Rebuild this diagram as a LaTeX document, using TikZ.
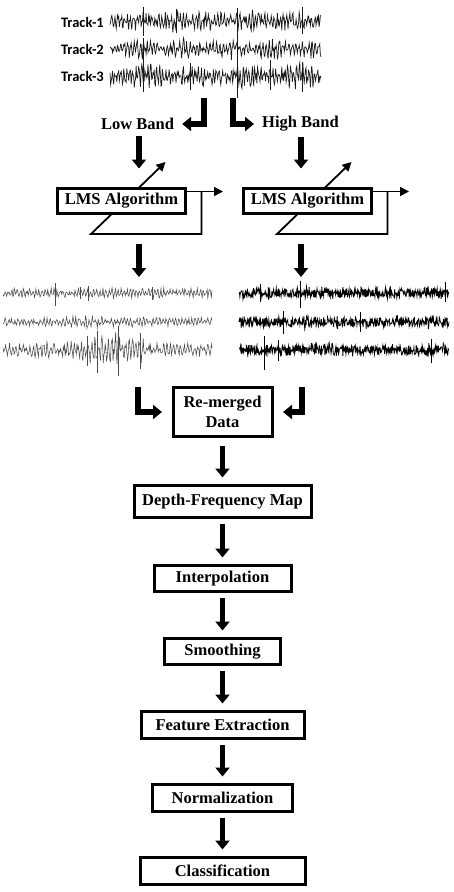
\documentclass[tikz,border=0pt]{standalone}
\usepackage{fontspec}
\setmainfont{Liberation Serif}
\newfontfamily\trackfont{Carlito}
\usetikzlibrary{arrows.meta,backgrounds,calc}
\begin{document}
\begin{tikzpicture}[x=1pt,y=-1pt,
  procbox/.style={draw, line width=3pt, fill=white, inner sep=0pt, align=center,
    font=\bfseries\fontsize{16.5}{20}\selectfont},
  lbl/.style={font=\bfseries\fontsize{16.5}{20}\selectfont, inner sep=0pt},
  trk/.style={font=\trackfont\bfseries\fontsize{14.5}{16}\selectfont, anchor=east, inner sep=0pt},
  bigarrow/.style={line width=5.5pt, line join=miter, -{Triangle[width=14pt,length=9pt]}},
  thinarrow/.style={line width=1.8pt, line join=miter, -{Triangle[width=9pt,length=9pt]}},
  wave/.style={line width=0.7pt, black!90},
  wavegray/.style={line width=0.55pt, black!70},
  wavedark/.style={line width=0.8pt, black}]
\useasboundingbox (0,0) rectangle (454,892);
\pgfmathsetseed{11}

% ---------- input tracks ----------
\node[trk] (t1) at (104,22) {Track-1};
\node[trk] (t2) at (104,49) {Track-2};
\node[trk] (t3) at (104,76) {Track-3};
\draw[wave] plot[domain=110:321,samples=340,variable=\t]
  (\t,{21+11*(0.8+0.2*sin(\t*9))*(0.55*sin(360*frac(\t*0.32))+0.6*rand)});
\draw[wave] plot[domain=110:321,samples=340,variable=\t]
  (\t,{49+10*(0.8+0.2*sin(\t*8+70))*(0.55*sin(360*frac(\t*0.303)+40)+0.6*rand)});
\draw[wave] plot[domain=110:321,samples=340,variable=\t]
  (\t,{76+13*(0.8+0.2*sin(\t*7+150))*(0.55*sin(360*frac(\t*0.336)+20)+0.6*rand)});
\draw[wave] (143,7) -- (143,36) (143,38) -- (143,64) (143,64) -- (143,92);
\draw[wave] (237,8) -- (237,98);
\draw[wave] (302,7) -- (302,34) (302,62) -- (302,92);
\draw[wave] (176,9) -- (176,33) (270,60) -- (270,90) (190,63) -- (190,90);

% ---------- band split ----------
\coordinate (lowstart) at (204,98);
\coordinate (highstart) at (233,98);
\node[lbl] (lowband) at (137.5,124) {Low Band};
\node[lbl] (highband) at (300.5,124) {High Band};
\draw[bigarrow, shorten >=8pt] (lowstart) |- (lowband.east);
\draw[bigarrow, shorten >=8pt] (highstart) |- (highband.west);

% ---------- LMS blocks ----------
\node[procbox, minimum width=128pt, minimum height=25pt] (lms1) at (121.5,201) {LMS Algorithm};
\node[procbox, minimum width=128pt, minimum height=25pt] (lms2) at (307.5,201) {LMS Algorithm};

\draw[bigarrow, shorten <=5.5pt, shorten >=18.5pt] ([xshift=1.5pt]lowband.south) -- ([xshift=1.5pt]lowband.south |- lms1.north);
\draw[bigarrow, shorten <=5.5pt, shorten >=18.5pt] ([xshift=0.5pt]highband.south) -- ([xshift=0.5pt]highband.south |- lms2.north);

\begin{scope}[on background layer]
  \foreach \b in {lms1,lms2}{
    \draw[thinarrow] ([yshift=9.5pt]\b.east) -- ++(36,0);
    \draw[thinarrow] ($(\b.center)+(80,-9.5)$) -- ($(\b.center)+(80,33)$)
      -- ($(\b.center)+(-30.5,33)$) -- ($(\b.center)+(44,-39)$);
  }
\end{scope}

\coordinate (lwtop) at (139,277);
\coordinate (rwtop) at (301,277);
\draw[bigarrow, shorten <=28.5pt] ([xshift=17.5pt]lms1.south) -- (lwtop);
\draw[bigarrow, shorten <=28.5pt] ([xshift=-6.5pt]lms2.south) -- (rwtop);

% ---------- filtered signals ----------
\draw[wavegray] plot[domain=3:212,samples=300,variable=\t]
  (\t,{293+4.5*(0.6*sin(360*frac(\t*0.328))+0.6*rand)});
\draw[wavegray] (55,283) -- (55,306) (88,286) -- (88,301) (152,287) -- (152,300) (80,287) -- (80,299);
\draw[wavegray] plot[domain=3:212,samples=300,variable=\t]
  (\t,{322+(4+3/(1+((\t-90)/15)^2))*(0.6*sin(360*frac(\t*0.311)+30)+0.6*rand)});
\draw[wavegray] plot[domain=3:212,samples=320,variable=\t]
  (\t,{350+(6+9/(1+((\t-100)/18)^2)+13/(1+((\t-118)/3)^2)+7/(1+((\t-140)/3)^2))*(0.6*sin(360*frac(\t*0.292)+10)+0.6*rand)});
\draw[wavegray] (97,331) -- (97,373) (118,326) -- (118,376) (140,333) -- (140,369) (87,336) -- (87,366);

\draw[wavedark] plot[domain=239:449,samples=480,variable=\t] (\t,{293+7.5*rand*(0.45+0.8*rnd*rnd)});
\draw[wavedark] (300,281) -- (300,308) (260,284) -- (260,302) (445,282) -- (445,302);
\draw[wavedark] plot[domain=239:449,samples=480,variable=\t] (\t,{322+7*rand*(0.45+0.8*rnd*rnd)});
\draw[wavedark] (283,311) -- (283,334) (360,312) -- (360,332);
\draw[wavedark] plot[domain=239:449,samples=480,variable=\t] (\t,{350+8*rand*(0.45+0.8*rnd*rnd)});
\draw[wavedark] (264,336) -- (264,370) (278,340) -- (278,361) (431,339) -- (431,363);

% ---------- merge ----------
\node[procbox, minimum width=99pt, minimum height=49pt] (merge) at (222.5,412) {Re-merged\\Data};
\coordinate (lwbot) at (138,387);
\coordinate (rwbot) at (302,387);
\draw[bigarrow, shorten >=9.5pt] (lwbot) |- (merge.west);
\draw[bigarrow, shorten >=9.5pt] (rwbot) |- (merge.east);

% ---------- processing chain ----------
\node[procbox, minimum width=177pt, minimum height=32pt] (dfm) at (222.5,501.5) {Depth-Frequency Map};
\node[procbox, minimum width=137pt, minimum height=26pt] (interp) at (222.5,578.5) {Interpolation};
\node[procbox, minimum width=116pt, minimum height=26pt] (smooth) at (222.5,651.5) {Smoothing};
\node[procbox, minimum width=163pt, minimum height=27pt] (feat) at (222.5,725) {Feature Extraction};
\node[procbox, minimum width=140pt, minimum height=27pt] (norm) at (222.5,798) {Normalization};
\node[procbox, minimum width=165pt, minimum height=27pt] (class) at (222.5,871) {Classification};

\draw[bigarrow, shorten <=8pt, shorten >=6.5pt] (merge.south) -- (dfm.north);
\draw[bigarrow, shorten <=5pt, shorten >=6.5pt] (dfm.south) -- (interp.north);
\draw[bigarrow, shorten <=5pt, shorten >=6.5pt] (interp.south) -- (smooth.north);
\draw[bigarrow, shorten <=5pt, shorten >=6.5pt] (smooth.south) -- (feat.north);
\draw[bigarrow, shorten <=5pt, shorten >=6.5pt] (feat.south) -- (norm.north);
\draw[bigarrow, shorten <=5pt, shorten >=6.5pt] (norm.south) -- (class.north);
\end{tikzpicture}
\end{document}
